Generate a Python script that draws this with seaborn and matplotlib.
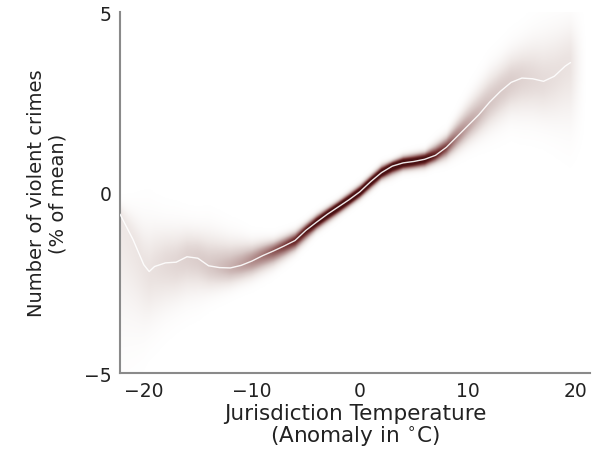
import numpy as np
import matplotlib
matplotlib.use("Agg")
import matplotlib.pyplot as plt
from matplotlib.colors import LinearSegmentedColormap
import seaborn as sns
import pandas as pd

# Estimated response curve (violent crime, % of mean) vs temperature anomaly
temp = [-22.2, -21, -20, -19.5, -19, -18, -17, -16, -15, -14, -13, -12, -11, -10,
        -9, -8, -7, -6, -5, -4, -3, -2, -1, 0, 1, 2, 3, 4, 5, 6, 7, 8, 9, 10,
        11, 12, 13, 14, 15, 16, 17, 18, 19, 19.5]
crimes = [-0.6, -1.3, -2.0, -2.19, -2.05, -1.95, -1.93, -1.78, -1.82, -2.03, -2.08,
          -2.09, -2.02, -1.9, -1.75, -1.62, -1.48, -1.33, -1.05, -0.82, -0.6, -0.4,
          -0.2, 0.02, 0.3, 0.55, 0.73, 0.82, 0.86, 0.92, 1.03, 1.25, 1.55, 1.85,
          2.15, 2.5, 2.8, 3.05, 3.17, 3.15, 3.08, 3.22, 3.5, 3.6]

# Extent of the bootstrap spread around the curve
band_temp = [-22.2, -20, -18, -16, -14, -12, -10, -8, -6, -4, -2, 0, 2, 4, 6, 8,
             10, 12, 14, 16, 18, 19.5]
band_upper = [-0.2, -0.5, -0.7, -0.8, -0.9, -1.15, -1.3, -1.25, -1.02, -0.56, -0.18,
              0.26, 0.8, 1.06, 1.18, 1.65, 2.6, 3.5, 4.1, 4.5, 4.8, 5.0]
band_lower = [-4.3, -4.1, -3.5, -3.1, -2.9, -2.7, -2.45, -2.12, -1.7, -1.1, -0.66,
              -0.22, 0.3, 0.56, 0.64, 0.86, 1.25, 1.6, 1.95, 1.85, 1.65, 1.5]

x_ticks = [-20, -10, 0, 10, 20]
y_ticks = [-5, 0, 5]

sns.set_style("white")
plt.rcParams["font.family"] = ["DejaVu Sans"]

fig = plt.figure(figsize=(5.93, 4.56), dpi=100)
ax = fig.add_axes([120 / 593, 1 - 374 / 456, 470 / 593, (374 - 13) / 456])
xlim = (-22.2, 21.3)
ylim = (-5, 5)

# Watercolor shading: density of the spread, darker where the spread is narrow
gx = np.linspace(band_temp[0], 21.0, 1000)
gy = np.linspace(ylim[0], ylim[1], 800)
mu = np.interp(gx, temp, crimes)
up = np.interp(gx, band_temp, band_upper)
lo = np.interp(gx, band_temp, band_lower)
s_up = np.maximum(up - mu, 0.05) / 2.0
s_lo = np.maximum(mu - lo, 0.05) / 2.0
Y = gy[:, None]
z = np.where(Y >= mu[None, :], (Y - mu[None, :]) / s_up[None, :],
             (mu[None, :] - Y) / s_lo[None, :])
dens = np.exp(-0.5 * z ** 2) * 0.3 / (s_up + s_lo)[None, :]
# soft fade past the last estimate on the warm side
fade = np.clip((21.0 - gx) / 1.5, 0, 1) ** 1.5
dens = np.clip(dens * fade[None, :], 0, 1)

cmap = LinearSegmentedColormap.from_list(
    "water", [(0.0, "#ffffff"), (0.15, "#eee7e5"), (0.3, "#d8c9c7"),
              (0.55, "#ab8483"), (0.8, "#733232"), (1.0, "#4a1012")])
ax.imshow(dens, extent=[gx[0], gx[-1], ylim[0], ylim[1]], origin="lower",
          aspect="auto", cmap=cmap, vmin=0, vmax=1, interpolation="bilinear",
          zorder=1)

df = pd.DataFrame({"temp": temp, "crimes": crimes})
sns.lineplot(data=df, x="temp", y="crimes", ax=ax, color="white", lw=1.0,
             alpha=0.9, zorder=3, estimator=None, sort=False)

ax.set_xlim(*xlim)
ax.set_ylim(*ylim)
ax.set_xticks(x_ticks)
ax.set_yticks(y_ticks)
ax.set_xticklabels([f"{t}".replace("-", "\u2212") for t in x_ticks])
ax.set_yticklabels([f"{t}".replace("-", "\u2212") for t in y_ticks])

for side in ["top", "right"]:
    ax.spines[side].set_visible(False)
for side in ["left", "bottom"]:
    ax.spines[side].set_color("#8a8a8a")
    ax.spines[side].set_linewidth(1.5)
ax.tick_params(direction="in", length=4, width=1, color="#8a8a8a",
               labelsize=13.5, labelcolor="#222222", pad=6)

ax.set_xlabel("Jurisdiction Temperature\n(Anomaly in $^{\\circ}$C)", fontsize=15.5,
              color="#222222", labelpad=2, linespacing=1.05)
ax.set_ylabel("Number of violent crimes\n(% of mean)", fontsize=14,
              color="#222222", labelpad=12, linespacing=1.15)

fig.savefig("out.png", dpi=100, facecolor="white")
